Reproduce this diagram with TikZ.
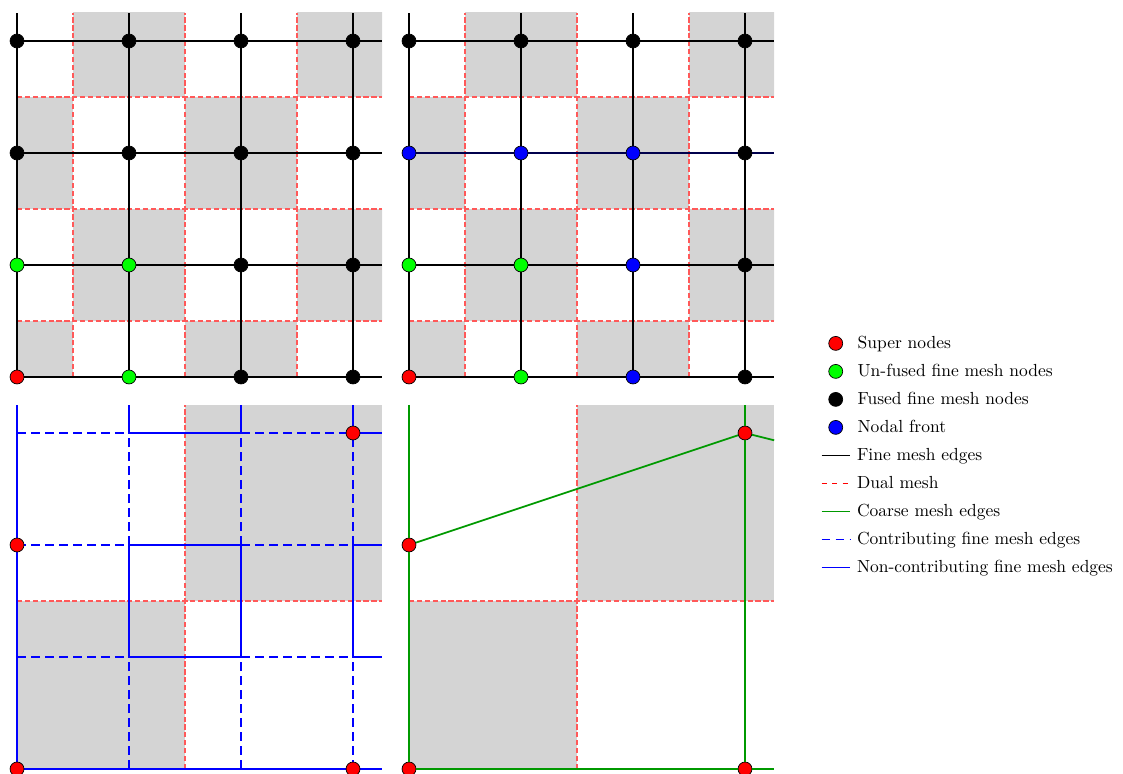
\documentclass[tikz,border=0pt]{standalone}
\usepackage{tikz}
\usetikzlibrary{positioning}

\begin{document}
\begin{tikzpicture}[x=2.25cm, y=2.25cm,
    fine/.style={line width=1pt, black},
    dual/.style={line width=0.9pt, red!65, dash pattern=on 3pt off 1.5pt},
    legdual/.style={line width=1pt, red, dashed},
    cell/.style={fill=black!17},
    meshnode/.style={circle, draw=black, line width=0.4pt, inner sep=0pt, minimum size=0.28cm},
    supernode/.style={meshnode, fill=red},
    coarse/.style={line width=1pt, green!60!black},
    contrib/.style={line width=1pt, blue, dash pattern=on 5pt off 3pt},
    noncontrib/.style={line width=1pt, blue},
    legtext/.style={inner sep=0pt, text height=1.5ex, text depth=0.25ex}]

    \useasboundingbox (-0.152,-3.536) rectangle (9.875,3.366);

    % fine mesh with dual cells
    \foreach \px in {0,3.5} {
        \begin{scope}[shift={(\px,0)}]
            \begin{scope}
                \clip (0,0) rectangle (3.26,3.25);
                \foreach \i in {0,...,3}
                    \foreach \j in {0,...,3} {
                        \ifodd\numexpr\i+\j\relax\else
                            \fill[cell] (\i-0.5,\j-0.5) rectangle (\i+0.5,\j+0.5);
                        \fi
                    }
            \end{scope}
            \foreach \k in {0.5,1.5,2.5} {
                \draw[dual] (\k,0) -- (\k,3.25);
                \draw[dual] (0,\k) -- (3.26,\k);
            }
            \foreach \k in {0,...,3} {
                \draw[fine] (\k,0) -- (\k,3.25);
                \draw[fine] (0,\k) -- (3.26,\k);
            }
        \end{scope}
    }
    \draw[fine, blue!30!black] (3.5,2) -- (6.76,2);

    \foreach \j/\row in {0/{red,green,black,black}, 1/{green,green,black,black},
                         2/{black,black,black,black}, 3/{black,black,black,black}}
        \foreach \col [count=\i from 0] in \row
            \node[meshnode, fill=\col] (tl-\i-\j) at (\i,\j) {};

    \foreach \j/\row in {0/{red,green,blue,black}, 1/{green,green,blue,black},
                         2/{blue,blue,blue,black}, 3/{black,black,black,black}}
        \foreach \col [count=\i from 0] in \row
            \node[meshnode, fill=\col] (tr-\i-\j) at (3.5+\i,\j) {};

    % coarse dual cells
    \foreach \px in {0,3.5} {
        \begin{scope}[shift={(\px,-3.5)}]
            \fill[cell] (0,0) rectangle (1.5,1.5);
            \fill[cell] (1.5,1.5) rectangle (3.26,3.25);
            \draw[dual] (1.5,0) -- (1.5,3.25);
            \draw[dual] (0,1.5) -- (3.26,1.5);
        \end{scope}
    }

    \begin{scope}[shift={(0,-3.5)}]
        \draw[noncontrib] (0,0) -- (0,3.25);
        \draw[noncontrib] (0,0) -- (3.26,0);
        \foreach \k in {1,2,3} {
            \draw[noncontrib] (\k,3) -- (\k,3.25);
            \draw[contrib] (\k,2) -- (\k,3);
            \draw[noncontrib] (\k,1) -- (\k,2);
            \draw[contrib] (\k,0) -- (\k,1);
            \draw[contrib] (0,\k) -- (1,\k);
            \draw[noncontrib] (1,\k) -- (2,\k);
            \draw[contrib] (2,\k) -- (3,\k);
            \draw[noncontrib] (3,\k) -- (3.26,\k);
        }
    \end{scope}

    \foreach \px/\tag in {0/bl, 3.5/br}
        \foreach \i/\j in {0/0, 3/0, 0/2, 3/3}
            \node[supernode] (\tag-\i-\j) at (\px+\i,\j-3.5) {};

    \coordinate (br-top0) at (3.5,-0.25);
    \coordinate (br-top3) at (6.5,-0.25);
    \coordinate (br-right) at (6.76,-3.5);
    \coordinate (br-out) at (6.76,-0.565);
    \draw[coarse] (br-top0) -- (br-0-2) -- (br-0-0) -- (br-3-0) -- (br-right);
    \draw[coarse] (br-0-2) -- (br-3-3) -- (br-out);
    \draw[coarse] (br-top3) -- (br-3-3) -- (br-3-0);

    % legend
    \node[supernode] (leg-super) at (7.31,0.30) {};
    \node[legtext, right=0.285cm of leg-super] (txt-super) {Super nodes};
    \node[meshnode, fill=green] (leg-unfused) at (7.31,0.05) {};
    \node[legtext, right=0.285cm of leg-unfused] (txt-unfused) {Un-fused fine mesh nodes};
    \node[meshnode, fill=black] (leg-fused) at (7.31,-0.20) {};
    \node[legtext, right=0.285cm of leg-fused] (txt-fused) {Fused fine mesh nodes};
    \node[meshnode, fill=blue] (leg-front) at (7.31,-0.45) {};
    \node[legtext, right=0.285cm of leg-front] (txt-front) {Nodal front};

    \coordinate (leg-fine-a) at (7.185,-0.70);
    \coordinate (leg-fine-b) at (7.4375,-0.70);
    \draw[fine] (leg-fine-a) -- (leg-fine-b);
    \node[legtext, right=0.134cm of leg-fine-b] (txt-fine) {Fine mesh edges};
    \coordinate (leg-dual-a) at (7.185,-0.95);
    \coordinate (leg-dual-b) at (7.4375,-0.95);
    \draw[legdual] (leg-dual-a) -- (leg-dual-b);
    \node[legtext, right=0.134cm of leg-dual-b] (txt-dual) {Dual mesh};
    \coordinate (leg-coarse-a) at (7.185,-1.20);
    \coordinate (leg-coarse-b) at (7.4375,-1.20);
    \draw[coarse] (leg-coarse-a) -- (leg-coarse-b);
    \node[legtext, right=0.134cm of leg-coarse-b] (txt-coarse) {Coarse mesh edges};
    \coordinate (leg-contrib-a) at (7.185,-1.45);
    \coordinate (leg-contrib-b) at (7.4375,-1.45);
    \draw[contrib] (leg-contrib-a) -- (leg-contrib-b);
    \node[legtext, right=0.134cm of leg-contrib-b] (txt-contrib) {Contributing fine mesh edges};
    \coordinate (leg-noncontrib-a) at (7.185,-1.70);
    \coordinate (leg-noncontrib-b) at (7.4375,-1.70);
    \draw[noncontrib] (leg-noncontrib-a) -- (leg-noncontrib-b);
    \node[legtext, right=0.134cm of leg-noncontrib-b] (txt-noncontrib) {Non-contributing fine mesh edges};
\end{tikzpicture}
\end{document}
